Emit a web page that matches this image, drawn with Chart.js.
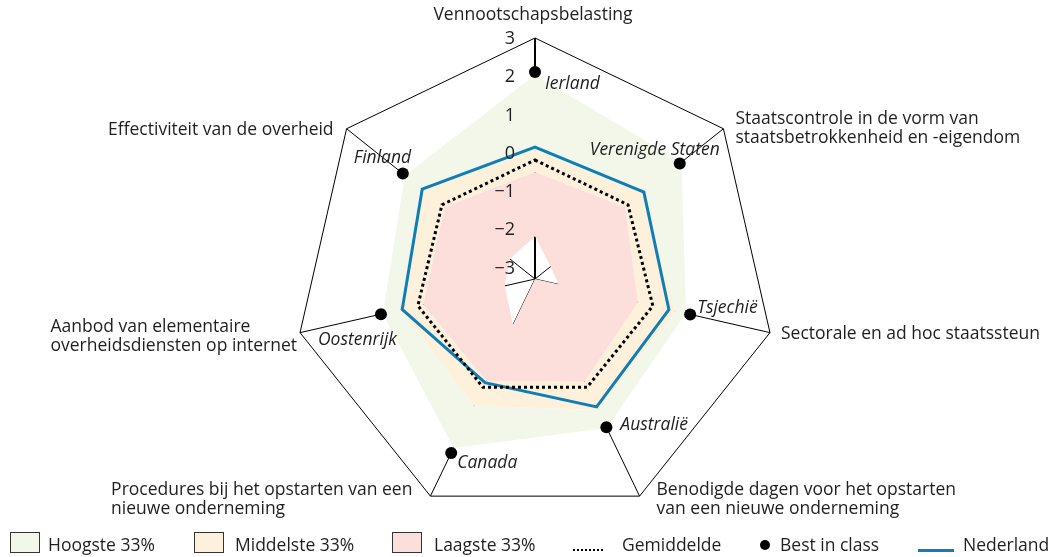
<!DOCTYPE html>
<html lang="nl">
<head>
<meta charset="utf-8">
<script src="https://cdn.jsdelivr.net/npm/chart.js@4.4.1/dist/chart.umd.min.js"></script>
<style>
  body { margin: 0; background: #fff; font-family: "Open Sans", sans-serif; color: #1f1f1f; }
  #wrap { position: relative; width: 1049px; height: 557px; }
  .sw { position: absolute; top: 532px; width: 30px; height: 21px; border: 1px solid #333; box-sizing: border-box; }
  .lt { position: absolute; top: 532px; font-size: 17.5px; line-height: 24px; white-space: nowrap; }
</style>
</head>
<body>
<div id="wrap">
  <canvas id="radar"></canvas>
  <div class="sw" style="left:10px;background:#f2f7e9"></div>
  <div class="lt" style="left:48px">Hoogste 33%</div>
  <div class="sw" style="left:194px;background:#fdf1db"></div>
  <div class="lt" style="left:235px">Middelste 33%</div>
  <div class="sw" style="left:392px;background:#fcdeda"></div>
  <div class="lt" style="left:434px">Laagste 33%</div>
  <div style="position:absolute;left:573px;top:549px;width:31px;height:2px;background:repeating-linear-gradient(90deg,#000 0 2px,transparent 2px 4px)"></div>
  <div class="lt" style="left:622px">Gemiddelde</div>
  <div style="position:absolute;left:760px;top:540px;width:10px;height:10px;border-radius:50%;background:#000"></div>
  <div class="lt" style="left:780px">Best in class</div>
  <div style="position:absolute;left:918px;top:549px;width:36px;height:3px;background:#0f7db7"></div>
  <div class="lt" style="left:963px">Nederland</div>
</div>
<script>
// ─── Data ─────────────────────────────────────────────────────────────────────
const categories = [
  ['Vennootschapsbelasting'],
  ['Staatscontrole in de vorm van', 'staatsbetrokkenheid en -eigendom'],
  ['Sectorale en ad hoc staatssteun'],
  ['Benodigde dagen voor het opstarten', 'van een nieuwe onderneming'],
  ['Procedures bij het opstarten van een', 'nieuwe onderneming'],
  ['Aanbod van elementaire', 'overheidsdiensten op internet'],
  ['Effectiviteit van de overheid'],
];
const bestCountries = ['Ierland', 'Verenigde Staten', 'Tsjechië', 'Australië', 'Canada', 'Oostenrijk', 'Finland'];
const tickValues = [-3, -2, -1, 0, 1, 2, 3];

const minimum     = [-2.18, -2.78, -2.67, -3.3, -1.97, -2.49, -2.46];
const laagste     = [-0.50, -0.29, -0.54, -0.32, -0.35, -0.30, -0.28];
const middelste   = [0.05, 0.30, 0.46, 0.50, 0.38, 0.30, 0.45];
const hoogste     = [2.03, 1.60, 0.75, 1.02, 1.60, 0.78, 1.05];
const gemiddelde  = [-0.19, -0.19, -0.14, -0.16, -0.16, -0.16, -0.19];
const nederland   = [0.15, 0.34, 0.29, 0.41, -0.29, 0.26, 0.47];
const bestInClass = [2.11, 1.54, 0.86, 1.00, 1.75, 0.83, 1.12];

// ─── Label layout (offsets from axis end / best-in-class dot) ────────────────
const axisLabelLayout = [
  { dx: -2,  dy: -23, align: 'center' },
  { dx: 12,  dy: -10, align: 'left' },
  { dx: 11,  dy: 1,   align: 'left' },
  { dx: 17,  dy: -6,  align: 'left' },
  { dx: -18, dy: -6,  align: 'right' },
  { dx: -3,  dy: -6,  align: 'right' },
  { dx: -13, dy: 1,   align: 'right' },
];
const countryLayout = [
  { dx: 10,  dy: 12,  align: 'left' },
  { dx: 40,  dy: -14, align: 'right' },
  { dx: 7,   dy: -6,  align: 'left' },
  { dx: 14,  dy: -2,  align: 'left' },
  { dx: 6,   dy: 10,  align: 'left' },
  { dx: -63, dy: 26,  align: 'left' },
  { dx: -49, dy: -16, align: 'left' },
];

const fmtTick = v => (v < 0 ? '\u2212' + Math.abs(v) : String(v));

// Draws tick numbers, axis titles and country names
const textPlugin = {
  id: 'radarText',
  afterDraw(chart) {
    const ctx = chart.ctx;
    const r = chart.scales.r;
    ctx.save();
    ctx.fillStyle = '#1f1f1f';
    ctx.textBaseline = 'middle';

    ctx.font = '18px "Open Sans"';
    ctx.textAlign = 'right';
    tickValues.forEach(v => {
      ctx.fillText(fmtTick(v), r.xCenter - 20, r.yCenter - r.getDistanceFromCenterForValue(v) + 1);
    });

    ctx.font = '17.5px "Open Sans"';
    categories.forEach((lines, i) => {
      const p = r.getPointPosition(i, r.drawingArea);
      const L = axisLabelLayout[i];
      const w = Math.max(...lines.map(t => ctx.measureText(t).width));
      let x = p.x + L.dx;
      if (L.align === 'center') ctx.textAlign = 'center';
      else { ctx.textAlign = 'left'; if (L.align === 'right') x -= w; }
      lines.forEach((t, k) => ctx.fillText(t, x, p.y + L.dy + k * 19));
    });

    ctx.font = 'italic 17.5px "Open Sans"';
    const dots = chart.getDatasetMeta(6).data;
    bestCountries.forEach((name, i) => {
      const L = countryLayout[i];
      ctx.textAlign = L.align;
      ctx.fillText(name, dots[i].x + L.dx, dots[i].y + L.dy);
    });
    ctx.restore();
  }
};

new Chart(document.getElementById('radar'), {
  type: 'radar',
  data: {
    labels: categories.map(c => c.join(' ')),
    datasets: [
      { data: minimum,    fill: false, borderWidth: 0, borderColor: 'rgba(0,0,0,0)', pointRadius: 0 },
      { data: laagste,    fill: '-1', backgroundColor: '#fcdeda', borderWidth: 0, borderColor: 'rgba(0,0,0,0)', pointRadius: 0 },
      { data: middelste,  fill: '-1', backgroundColor: '#fdf1db', borderWidth: 0, borderColor: 'rgba(0,0,0,0)', pointRadius: 0 },
      { data: hoogste,    fill: '-1', backgroundColor: '#f2f7e9', borderWidth: 0, borderColor: 'rgba(0,0,0,0)', pointRadius: 0 },
      { data: gemiddelde, fill: false, borderColor: '#000', borderWidth: 3, borderDash: [3, 3], pointRadius: 0 },
      { data: nederland,  fill: false, borderColor: '#0f7db7', borderWidth: 3, pointRadius: 0 },
      { data: bestInClass, fill: false, showLine: false, borderWidth: 0, pointRadius: 6,
        pointBackgroundColor: '#000', pointBorderColor: '#000' },
    ],
  },
  options: {
    responsive: true, maintainAspectRatio: false, animation: false,
    layout: { padding: { top: 38, bottom: 37, left: 50, right: 29 } },
    elements: { line: { tension: 0 } },
    plugins: {
      legend: { display: false },
      tooltip: { enabled: false },
      filler: { drawTime: 'beforeDatasetsDraw', propagate: false },
    },
    scales: {
      r: {
        min: -3.3, max: 3,
        afterBuildTicks: scale => { scale.ticks = tickValues.map(v => ({ value: v })); },
        ticks: { display: false },
        pointLabels: { display: false },
        angleLines: { color: '#000', lineWidth: c => (c.index === 0 ? 2 : 1) },
        grid: { color: c => (c.tick && c.tick.value === 3 ? '#000' : 'rgba(0,0,0,0)'), lineWidth: 1 },
      },
    },
  },
  plugins: [textPlugin],
});
</script>
</body>
</html>
